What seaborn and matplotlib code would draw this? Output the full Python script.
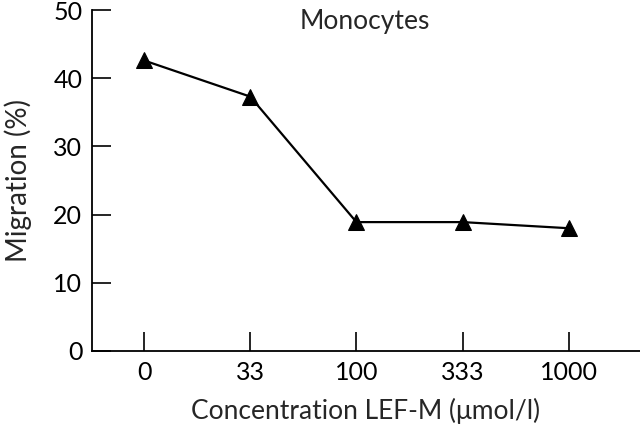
import matplotlib
matplotlib.use("Agg")
import matplotlib.pyplot as plt
import seaborn as sns
import pandas as pd

concentrations = ["0", "33", "100", "333", "1000"]
migration = [42.6, 37.3, 18.9, 18.9, 18.0]
yticks = [0, 10, 20, 30, 40, 50]

sns.set_style("ticks")
plt.rcParams['font.family'] = ['Lato', 'DejaVu Sans']

df = pd.DataFrame({"pos": list(range(len(concentrations))), "val": migration})

fig = plt.figure(figsize=(6.4, 4.28), dpi=100)
ax = fig.add_axes([92/640, 77/428, 1 - 92/640, 341/428])
sns.lineplot(data=df, x="pos", y="val", ax=ax, color="black", linewidth=1.6,
             marker="^", markersize=11, markeredgecolor="black", markerfacecolor="black")

ax.set_xlim(-0.49, 4.67)
ax.set_ylim(0, 50)
ax.set_yticks(yticks)
ax.set_yticklabels([str(t) for t in yticks])
ax.set_xticks(range(len(concentrations)))
ax.set_xticklabels(concentrations)
ax.tick_params(direction="in", length=14, width=1.2, labelsize=18, colors="black", pad=7)
for s in ["top", "right"]:
    ax.spines[s].set_visible(False)
for s in ["left", "bottom"]:
    ax.spines[s].set_linewidth(1.3)
    ax.spines[s].set_color("black")
ax.set_xlabel("Concentration LEF-M (μmol/l)", fontsize=19, labelpad=10)
ax.set_ylabel("Migration (%)", fontsize=20, labelpad=15)
ax.text(0.497, 0.965, "Monocytes", transform=ax.transAxes, ha="center", va="center", fontsize=19)

fig.savefig("out.png", dpi=100)
